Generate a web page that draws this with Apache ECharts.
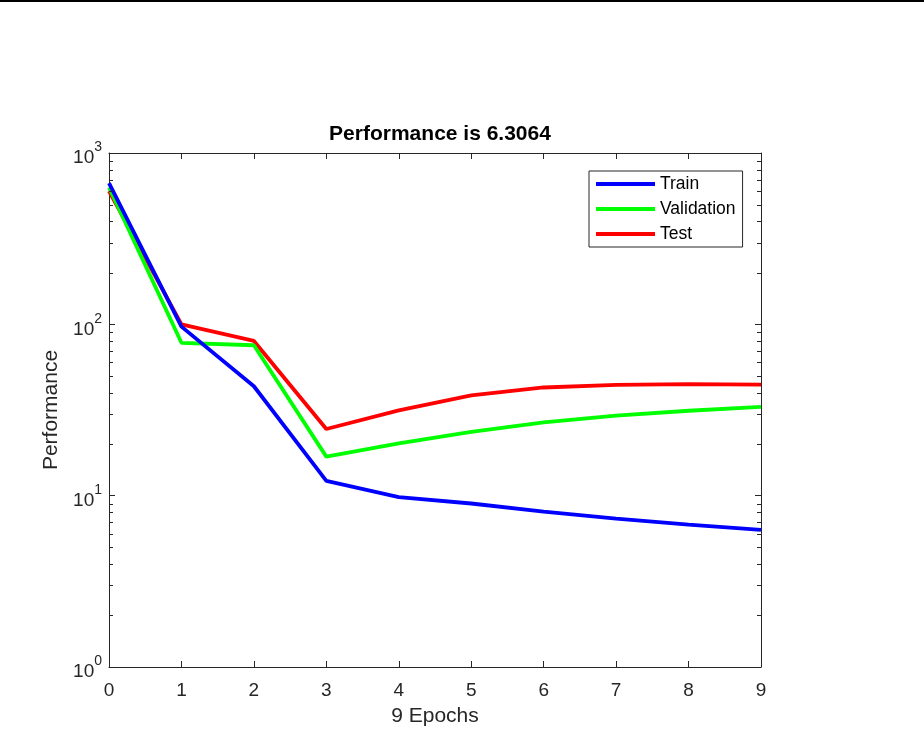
<!DOCTYPE html>
<html>
<head>
<meta charset="utf-8">
<script src="https://cdn.jsdelivr.net/npm/echarts@6/dist/echarts.min.js"></script>
<style>html,body{margin:0;padding:0;background:#fff;}#c{width:924px;height:737px;}</style>
</head>
<body>
<div id="c"></div>
<script>
const epochs = [0, 1, 2, 3, 4, 5, 6, 7, 8, 9];
const trainPerf = [668, 97, 43.5, 12.2, 9.8, 9.0, 8.07, 7.35, 6.78, 6.3064];
const validationPerf = [630, 78, 75.5, 16.9, 20.2, 23.6, 26.8, 29.3, 31.3, 33.0];
const testPerf = [600, 100, 80, 24.5, 31.5, 38.5, 42.8, 44.3, 44.8, 44.5];
const xTicks = [0, 1, 2, 3, 4, 5, 6, 7, 8, 9];
const yTicks = [1, 10, 100, 1000];
const titleText = 'Performance is 6.3064';
const xLabel = '9 Epochs';
const yLabel = 'Performance';

const AX = '#262626';
const FONT = 'Liberation Sans, Arial, Helvetica, sans-serif';
const pairs = arr => epochs.map((e, i) => [e, arr[i]]);

const chart = echarts.init(document.getElementById('c'), null, {renderer: 'canvas'});
const supLabel = v => {
  const e = Math.round(Math.log10(v));
  return '{b|10}{s|' + e + '}';
};
const option = {
  backgroundColor: '#fff',
  animation: false,
  title: {
    text: titleText, left: 435, top: 119, textAlign: 'center',
    textStyle: {fontFamily: FONT, fontSize: 21, fontWeight: 'bold', color: '#000'}
  },
  grid: {left: 109, right: 163, top: 153, bottom: 70, containLabel: false},
  legend: {
    orient: 'vertical', left: 589, top: 171,
    data: ['Train', 'Validation', 'Test'],
    icon: 'rect', itemWidth: 59, itemHeight: 4, itemGap: 7,
    padding: [4, 7, 4, 7],
    borderColor: AX, borderWidth: 1, backgroundColor: '#fff', borderRadius: 0,
    textStyle: {fontFamily: FONT, fontSize: 17.5, color: '#000'}
  },
  xAxis: [{
    type: 'value', min: 0, max: 9, interval: 1,
    name: xLabel, nameLocation: 'middle', nameGap: 39,
    nameTextStyle: {fontFamily: FONT, fontSize: 21, color: AX},
    axisLine: {show: true, onZero: false, lineStyle: {color: AX, width: 1}},
    axisTick: {show: true, inside: true, length: 6, lineStyle: {color: AX}},
    axisLabel: {fontFamily: FONT, fontSize: 19, color: AX, margin: 14},
    splitLine: {show: false}
  }, {
    type: 'value', min: 0, max: 9, interval: 1, position: 'top',
    axisLine: {show: true, onZero: false, lineStyle: {color: AX, width: 1}},
    axisTick: {show: true, inside: true, length: 6, lineStyle: {color: AX}},
    axisLabel: {show: false}, splitLine: {show: false}
  }],
  yAxis: [{
    type: 'log', logBase: 10, min: 1, max: 1000, interval: 1,
    name: yLabel, nameLocation: 'middle', nameGap: 47,
    nameTextStyle: {fontFamily: FONT, fontSize: 21, color: AX},
    axisLine: {show: true, onZero: false, lineStyle: {color: AX, width: 1}},
    axisTick: {show: true, inside: true, length: 6, lineStyle: {color: AX}},
    axisLabel: {
      fontFamily: FONT, color: AX, margin: 7, formatter: supLabel,
      rich: {
        b: {fontFamily: FONT, fontSize: 19, color: AX, padding: [10, 0, 0, 0]},
        s: {fontFamily: FONT, fontSize: 14, color: AX, verticalAlign: 'top', padding: [2, 0, 0, 0]}
      }
    },
    splitLine: {show: false}
  }, {
    type: 'log', logBase: 10, min: 1, max: 1000, interval: 1, position: 'right',
    axisLine: {show: true, onZero: false, lineStyle: {color: AX, width: 1}},
    axisTick: {show: true, inside: true, length: 6, lineStyle: {color: AX}},
    axisLabel: {show: false}, splitLine: {show: false}
  }],
  series: [
    {name: 'Test', type: 'line', data: pairs(testPerf), showSymbol: false, symbol: 'none',
     lineStyle: {color: '#ff0000', width: 3.8}, itemStyle: {color: '#ff0000'}, z: 2},
    {name: 'Validation', type: 'line', data: pairs(validationPerf), showSymbol: false, symbol: 'none',
     lineStyle: {color: '#00ff00', width: 3.8}, itemStyle: {color: '#00ff00'}, z: 3},
    {name: 'Train', type: 'line', data: pairs(trainPerf), showSymbol: false, symbol: 'none',
     lineStyle: {color: '#0000ff', width: 3.8}, itemStyle: {color: '#0000ff'}, z: 4}
  ]
};
chart.setOption(option);

// minor log ticks (2..9 per decade) placed through the axis scale
const minorVals = [];
for (let d = 0; d < 3; d++) for (let m = 2; m <= 9; m++) minorVals.push(m * Math.pow(10, d));
const xl = chart.convertToPixel({xAxisIndex: 0}, 0);
const xr = chart.convertToPixel({xAxisIndex: 0}, 9);
const graphics = [{type: 'rect', shape: {x: 0, y: 0, width: 924, height: 2}, style: {fill: '#000'}, z: 100}];
minorVals.forEach(v => {
  const y = Math.round(chart.convertToPixel({yAxisIndex: 0}, v)) + 0.5;
  graphics.push({type: 'line', shape: {x1: xl, y1: y, x2: xl + 4, y2: y}, style: {stroke: AX, lineWidth: 1}, z: 10});
  graphics.push({type: 'line', shape: {x1: xr - 4, y1: y, x2: xr, y2: y}, style: {stroke: AX, lineWidth: 1}, z: 10});
});
chart.setOption({graphic: graphics});
</script>
</body>
</html>
